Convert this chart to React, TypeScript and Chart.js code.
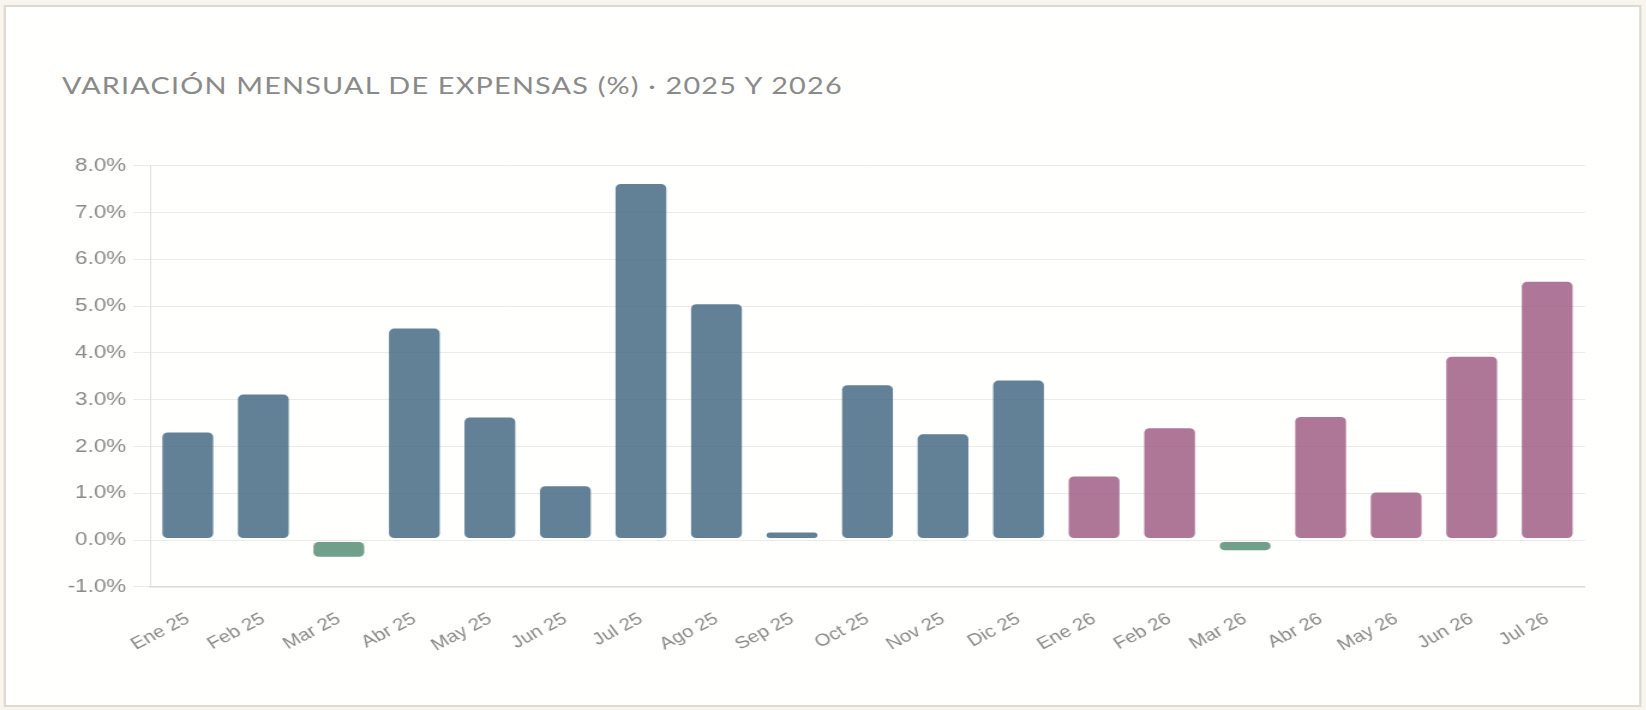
import React, { useEffect, useRef } from 'react';
import Chart from 'chart.js/auto';

const months: string[] = [
  'Ene 25', 'Feb 25', 'Mar 25', 'Abr 25', 'May 25', 'Jun 25', 'Jul 25', 'Ago 25', 'Sep 25',
  'Oct 25', 'Nov 25', 'Dic 25', 'Ene 26', 'Feb 26', 'Mar 26', 'Abr 26', 'May 26', 'Jun 26', 'Jul 26',
];

// variación mensual en %
const variation: number[] = [
  2.33, 3.14, -0.39, 4.55, 2.65, 1.18, 7.64, 5.07, 0.19,
  3.34, 2.29, 3.44, 1.39, 2.42, -0.25, 2.66, 1.05, 3.95, 5.55,
];

const yTicks: number[] = [-1, 0, 1, 2, 3, 4, 5, 6, 7, 8];

const title = 'Variación mensual de expensas (%) · 2025 y 2026';

const BLUE = 'rgba(70, 106, 132, 0.85)';
const PINK = 'rgba(160, 94, 133, 0.85)';
const GREEN = 'rgba(87, 143, 116, 0.85)';

// the reference picture is stretched horizontally
const STRETCH = 1.2;

const ExpensasChart: React.FC = () => {
  const chartRef = useRef<HTMLCanvasElement>(null);
  const chartInstance = useRef<Chart | null>(null);

  useEffect(() => {
    if (!chartRef.current) return;
    if (chartInstance.current) chartInstance.current.destroy();

    const colors = variation.map((v, i) =>
      v < 0 ? GREEN : months[i].endsWith('26') ? PINK : BLUE
    );

    chartInstance.current = new Chart(chartRef.current, {
      type: 'bar',
      data: {
        labels: months,
        datasets: [{
          data: variation,
          backgroundColor: colors,
          borderColor: 'rgba(0,0,0,0)',
          borderWidth: 1.5,
          borderSkipped: false,
          borderRadius: 6,
        }],
      },
      options: {
        animation: false,
        responsive: true,
        maintainAspectRatio: false,
        layout: { padding: { top: 25.7, right: 19.2, bottom: 0, left: 0 } },
        plugins: {
          legend: { display: false },
          tooltip: { enabled: false },
        },
        scales: {
          x: {
            grid: { display: false, drawTicks: false },
            border: { display: true, color: '#dcdbd6', width: 1.5 },
            ticks: {
              color: '#8a8a8a',
              font: { family: 'Liberation Sans', size: 17 },
              minRotation: 32,
              maxRotation: 32,
              padding: 22,
              autoSkip: false,
            },
            afterFit: (scale: any) => { scale.height = 113.2; },
          },
          y: {
            min: yTicks[0],
            max: yTicks[yTicks.length - 1],
            afterBuildTicks: (scale: any) => { scale.ticks = yTicks.map((v) => ({ value: v })); },
            grid: { color: '#ecebe7', lineWidth: 1, tickLength: 14 },
            border: { display: true, color: '#e2e1dd', width: 1 },
            ticks: {
              color: '#8a8a8a',
              font: { family: 'Liberation Sans', size: 18.6 },
              padding: 6,
              callback: (v: any) => `${Number(v).toFixed(1)}%`,
            },
            afterFit: (scale: any) => { scale.width = 85; },
          },
        },
      },
    });

    return () => {
      if (chartInstance.current) {
        chartInstance.current.destroy();
        chartInstance.current = null;
      }
    };
  }, []);

  return (
    <div style={{ position: 'absolute', left: 40, top: 140, width: 1300, height: 560 }}>
      <canvas ref={chartRef}></canvas>
    </div>
  );
};

const App: React.FC = () => {
  return (
    <div
      style={{
        position: 'absolute',
        left: 0,
        top: 0,
        width: 1646 / STRETCH,
        height: 710,
        background: '#f8f5ee',
        transform: `scaleX(${STRETCH})`,
        transformOrigin: '0 0',
        overflow: 'hidden',
      }}
    >
      <div
        style={{
          position: 'absolute',
          left: 2.5,
          top: 5,
          width: 1365,
          height: 702,
          boxSizing: 'border-box',
          border: '2px solid #dedad0',
          background: '#fffffd',
        }}
      />
      <div
        style={{
          position: 'absolute',
          left: 51.7,
          top: 71,
          fontFamily: 'Lato, sans-serif',
          fontSize: 24,
          lineHeight: 1.2,
          letterSpacing: 1,
          color: '#8a8a8a',
          textTransform: 'uppercase',
          whiteSpace: 'nowrap',
        }}
      >
        {title}
      </div>
      <ExpensasChart />
    </div>
  );
};

export default App;
